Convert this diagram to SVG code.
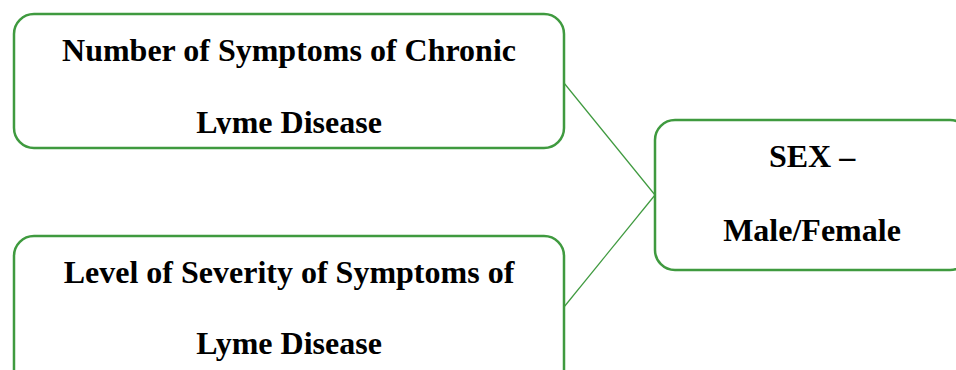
<svg xmlns="http://www.w3.org/2000/svg" width="956" height="370" viewBox="0 0 956 370">
<style>
.box{fill:#fff;stroke:#3f9a3f;stroke-width:2.5}
.conn{stroke:#3f9a3f;stroke-width:1.2;fill:none}
.t{font-family:"Liberation Serif","Times New Roman",serif;font-weight:bold;font-size:32px;fill:#000;text-anchor:middle}
</style>
<defs>
<clipPath id="c1"><rect x="13" y="14" width="552" height="120"/></clipPath>
</defs>
<rect width="956" height="370" fill="#fff"/>
<g id="connectors">
<line class="conn" x1="564" y1="83" x2="655" y2="195"/>
<line class="conn" x1="564" y1="307" x2="655" y2="195"/>
</g>
<g id="node1">
<rect class="box" x="14" y="14" width="550" height="134" rx="20"/>
<g clip-path="url(#c1)">
<text class="t" x="289" y="61">Number of Symptoms of Chronic</text>
<text class="t" x="289" y="133">Lyme Disease</text>
</g>
</g>
<g id="node2">
<rect class="box" x="14" y="236" width="550" height="180" rx="20"/>
<text class="t" x="289" y="283">Level of Severity of Symptoms of</text>
<text class="t" x="289" y="354">Lyme Disease</text>
</g>
<g id="node3">
<rect class="box" x="655" y="120" width="315" height="150" rx="20"/>
<text class="t" x="812" y="167">SEX –</text>
<text class="t" x="812" y="241">Male/Female</text>
</g>
</svg>
